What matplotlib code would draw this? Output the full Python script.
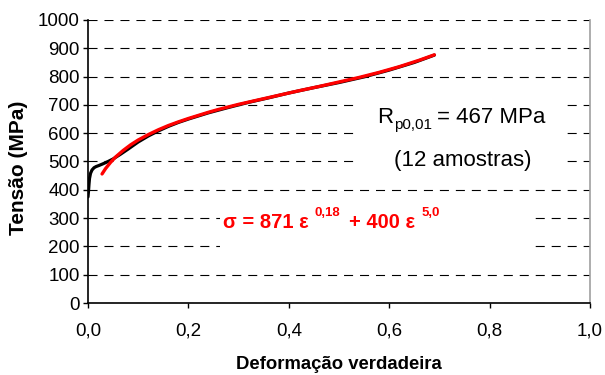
import matplotlib
matplotlib.use('Agg')
import matplotlib.pyplot as plt
from matplotlib.patches import Rectangle

plt.rcParams['font.family'] = ['Liberation Sans', 'DejaVu Sans']
plt.rcParams['lines.scale_dashes'] = False

# ---- data ----
strain_exp = [0.000, 0.001, 0.002, 0.003, 0.005, 0.008, 0.012, 0.016, 0.022, 0.030,
              0.040, 0.050, 0.065, 0.080, 0.100, 0.120, 0.140, 0.160, 0.180, 0.200,
              0.240, 0.280, 0.320, 0.360, 0.400, 0.450, 0.500, 0.550, 0.600, 0.650, 0.690]
stress_exp = [375, 395, 420, 440, 458, 470, 478, 482, 486, 492,
              500, 509, 526, 544, 569, 590, 608, 624, 638, 650,
              672, 691, 709, 725, 742, 761, 779, 799, 823, 850, 876]

strain_fit = [0.028, 0.035, 0.045, 0.055, 0.070, 0.085, 0.100, 0.120, 0.140, 0.160,
              0.180, 0.200, 0.220, 0.240, 0.260, 0.280, 0.300, 0.340, 0.380, 0.420,
              0.460, 0.500, 0.540, 0.580, 0.620, 0.660, 0.690]
stress_fit = [456, 475, 497, 516, 539, 559, 576, 595, 612, 627,
              640, 652, 663, 674, 684, 693, 702, 718, 734, 750,
              765, 781, 797, 815, 835, 858, 877]

x_ticks = [0.0, 0.2, 0.4, 0.6, 0.8, 1.0]
x_tick_labels = ['0,0', '0,2', '0,4', '0,6', '0,8', '1,0']
y_ticks = [0, 100, 200, 300, 400, 500, 600, 700, 800, 900, 1000]
y_tick_labels = [str(v) for v in y_ticks]

x_label = 'Deformação verdadeira'
y_label = 'Tensão (MPa)'

# ---- figure ----
W, H = 605, 375
fig = plt.figure(figsize=(W / 100, H / 100), dpi=100)
ax = fig.add_axes([88 / W, 72 / H, 502 / W, 283 / H])
ax.set_xlim(0, 1)
ax.set_ylim(0, 1000)

ax.set_xticks(x_ticks)
ax.set_xticklabels(x_tick_labels)
ax.set_yticks(y_ticks)
ax.set_yticklabels(y_tick_labels)
ax.tick_params(axis='x', direction='out', length=3.6, width=1.0, pad=10.5, labelsize=13.5)
ax.tick_params(axis='y', direction='out', length=3.6, width=1.0, pad=2.5, labelsize=13.5)

ax.set_axisbelow(True)
ax.yaxis.grid(True, color='black', linewidth=0.8, linestyle=(0, (6.5, 5)))

for s in ['left', 'bottom']:
    ax.spines[s].set_linewidth(1.2)
    ax.spines[s].set_color('black')
ax.spines['top'].set_visible(False)
ax.spines['right'].set_color('#a0a0a0')
ax.spines['right'].set_linewidth(1.2)

# white text-box backgrounds that mask the gridlines
ax.add_patch(Rectangle((0.536, 435), 0.41, 335, facecolor='white', edgecolor='none', zorder=1))
ax.add_patch(Rectangle((0.263, 145), 0.627, 237, facecolor='white', edgecolor='none', zorder=1))

ax.plot(strain_exp, stress_exp, color='black', lw=2.3, zorder=3, solid_capstyle='round')
ax.plot(strain_fit, stress_fit, color='red', lw=2.4, zorder=4, solid_capstyle='round')

# Rp annotation
yb = 0.636
tR = ax.text(0.576, yb, 'R', transform=ax.transAxes, fontsize=16, ha='left', va='baseline', zorder=5)
tsub = ax.annotate('p0,01', xy=(1, yb), xycoords=(tR, 'axes fraction'), xytext=(0.3, -4.5),
                   textcoords='offset points', fontsize=11, ha='left', va='baseline', zorder=5)
ax.annotate('= 467 MPa', xy=(1, yb), xycoords=(tsub, 'axes fraction'), xytext=(4, 0),
            textcoords='offset points', fontsize=16, ha='left', va='baseline', zorder=5)
ax.text(0.747, 0.484, '(12 amostras)', transform=ax.transAxes, fontsize=16,
        ha='center', va='baseline', zorder=5)

# formula
fb = 0.265
red = '#ff0000'
t1 = ax.text(0.269, fb, 'σ = 871 ε', transform=ax.transAxes, fontsize=14.5, fontweight='bold',
             color=red, ha='left', va='baseline', zorder=5)
t2 = ax.annotate('0,18', xy=(1, fb), xycoords=(t1, 'axes fraction'), xytext=(4, 8.8),
                 textcoords='offset points', fontsize=9.5, fontweight='bold', color=red,
                 ha='left', va='baseline', zorder=5)
t3 = ax.annotate('+ 400 ε', xy=(1, fb), xycoords=(t2, 'axes fraction'), xytext=(6.5, 0),
                 textcoords='offset points', fontsize=14.5, fontweight='bold', color=red,
                 ha='left', va='baseline', zorder=5)
ax.annotate('5,0', xy=(1, fb), xycoords=(t3, 'axes fraction'), xytext=(4.5, 8.8),
            textcoords='offset points', fontsize=9.5, fontweight='bold', color=red,
            ha='left', va='baseline', zorder=5)

# axis labels
fig.text(339 / W, 1 - 369 / H, x_label, fontsize=13.3, fontweight='bold', ha='center', va='baseline')
fig.text(19 / W, 1 - 168 / H, y_label, fontsize=15, fontweight='bold', rotation=90,
         ha='center', va='center')

fig.savefig('out.png', dpi=100, facecolor='white')
